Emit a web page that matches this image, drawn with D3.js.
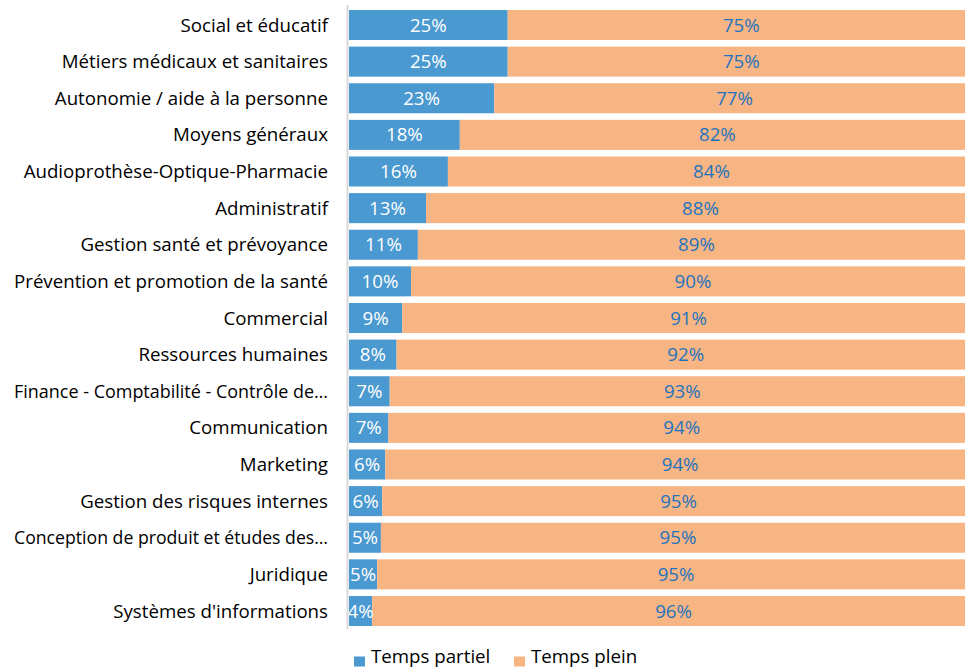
<!DOCTYPE html>
<html>
<head>
<meta charset="utf-8">
<script src="https://cdn.jsdelivr.net/npm/d3@7"></script>
<style>
  html, body { margin: 0; padding: 0; background: #fff; }
  svg { display: block; font-family: "Open Sans", sans-serif; }
</style>
</head>
<body>
<svg id="chart" width="965" height="670"></svg>
<script>
const categories = [
  "Social et éducatif",
  "Métiers médicaux et sanitaires",
  "Autonomie / aide à la personne",
  "Moyens généraux",
  "Audioprothèse-Optique-Pharmacie",
  "Administratif",
  "Gestion santé et prévoyance",
  "Prévention et promotion de la santé",
  "Commercial",
  "Ressources humaines",
  "Finance - Comptabilité - Contrôle de…",
  "Communication",
  "Marketing",
  "Gestion des risques internes",
  "Conception de produit et études des…",
  "Juridique",
  "Systèmes d'informations"
];
const partiel = [25.35, 25.35, 23.2, 17.7, 15.8, 12.3, 11.0, 9.9, 8.5, 7.6, 6.5, 6.3, 5.8, 5.3, 5.1, 4.5, 3.7];
const plein = partiel.map(v => 100 - v);
const partielLabels = ["25%","25%","23%","18%","16%","13%","11%","10%","9%","8%","7%","7%","6%","6%","5%","5%","4%"];
const pleinLabels = ["75%","75%","77%","82%","84%","88%","89%","90%","91%","92%","93%","94%","94%","95%","95%","95%","96%"];
const seriesNames = ["Temps partiel", "Temps plein"];

const colors = { partiel: "#4A99D0", plein: "#F8B584" };
const FONT = "'Open Sans', sans-serif";
const FS = 18.7;
const MAX_LABEL_W = 314;

const svg = d3.select("#chart");
const x = d3.scaleLinear().domain([0, 100]).range([349, 975]);
const y = d3.scaleBand().domain(categories).range([6.7, 629.3]).paddingInner(0.18).paddingOuter(0.09);

const yAxis = d3.axisLeft(y).tickSize(0).tickPadding(0);
const gy = svg.append("g").attr("transform", "translate(328,0)").call(yAxis);
gy.select(".domain").remove();
gy.selectAll("text")
  .attr("font-family", FONT)
  .attr("font-size", FS)
  .attr("fill", "#000")
  .attr("dy", "0.35em")
  .each(function () {
    const w = this.getComputedTextLength();
    if (w > MAX_LABEL_W) {
      d3.select(this).attr("textLength", MAX_LABEL_W).attr("lengthAdjust", "spacingAndGlyphs");
    }
  });

const rows = svg.append("g");
rows.selectAll("rect.p").data(categories).join("rect")
  .attr("class", "p")
  .attr("x", x(0))
  .attr("y", d => y(d))
  .attr("width", (d, i) => x(partiel[i]) - x(0))
  .attr("height", y.bandwidth())
  .attr("fill", colors.partiel);
rows.selectAll("rect.f").data(categories).join("rect")
  .attr("class", "f")
  .attr("x", (d, i) => x(partiel[i]))
  .attr("y", d => y(d))
  .attr("width", (d, i) => x(partiel[i] + plein[i]) - x(partiel[i]))
  .attr("height", y.bandwidth())
  .attr("fill", colors.plein);

rows.selectAll("text.pl").data(categories).join("text")
  .attr("class", "pl")
  .attr("x", (d, i) => (x(0) + x(partiel[i])) / 2)
  .attr("y", d => y(d) + y.bandwidth() / 2)
  .attr("dy", "0.35em")
  .attr("text-anchor", "middle")
  .attr("font-family", FONT)
  .attr("font-size", FS)
  .attr("fill", "#fff")
  .text((d, i) => partielLabels[i]);
rows.selectAll("text.fl").data(categories).join("text")
  .attr("class", "fl")
  .attr("x", (d, i) => (x(partiel[i]) + x(100)) / 2)
  .attr("y", d => y(d) + y.bandwidth() / 2)
  .attr("dy", "0.35em")
  .attr("text-anchor", "middle")
  .attr("font-family", FONT)
  .attr("font-size", FS)
  .attr("fill", "#1F73BE")
  .text((d, i) => pleinLabels[i]);

svg.append("line")
  .attr("x1", 347.5).attr("x2", 347.5)
  .attr("y1", 5).attr("y2", 629)
  .attr("stroke", "#D9D9D9").attr("stroke-width", 2);

const legend = svg.append("g");
const legendItems = [
  { name: seriesNames[0], color: colors.partiel, x: 354 },
  { name: seriesNames[1], color: colors.plein, x: 514 }
];
legendItems.forEach(it => {
  legend.append("rect").attr("x", it.x).attr("y", 656.5).attr("width", 11).attr("height", 10).attr("fill", it.color);
  legend.append("text").attr("x", it.x + 17).attr("y", 662.5)
    .attr("font-family", FONT)
    .attr("font-size", FS).attr("fill", "#000").text(it.name);
});
</script>
</body>
</html>
